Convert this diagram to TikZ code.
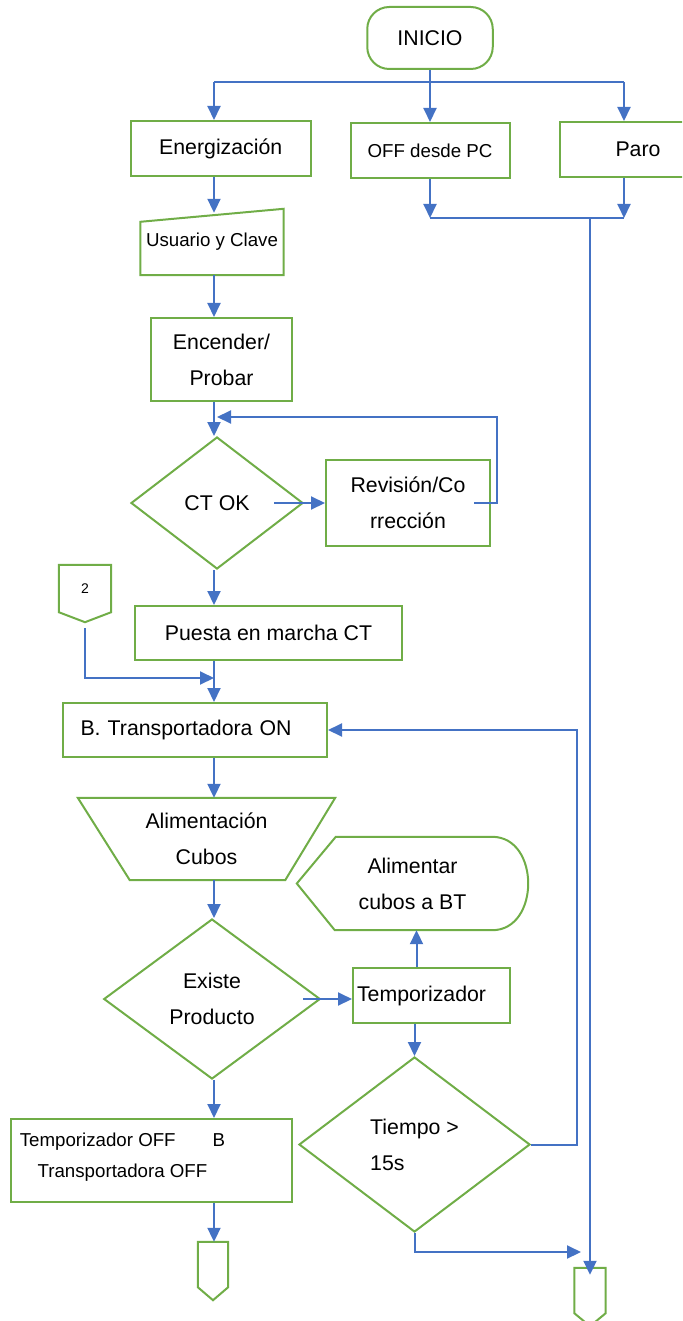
\documentclass[tikz,border=0pt]{standalone}
\usepackage{fontspec}
\setmainfont{Liberation Sans}
\usepackage{tikz}
\usetikzlibrary{arrows.meta,shapes.geometric,calc,positioning}

\definecolor{boxgreen}{HTML}{70AD47}
\definecolor{flowblue}{HTML}{4472C4}

\begin{document}
\begin{tikzpicture}[x=1pt,y=-1pt,
  txt/.style={font=\fontsize{21.3}{36}\selectfont},
  small/.style={font=\fontsize{18.7}{31}\selectfont},
  box/.style={rectangle,draw=boxgreen,line width=2pt,inner sep=0pt,align=center,txt},
  decide/.style={diamond,draw=boxgreen,line width=2pt,inner sep=0pt,align=center,txt},
  shell/.style={rectangle,inner sep=0pt,align=center,txt},
  outline/.style={draw=boxgreen,line width=2pt},
  flow/.style={draw=flowblue,line width=2pt,-{Triangle[length=14pt,width=13pt]}},
  thinlink/.style={draw=flowblue,line width=1.2pt}]
\useasboundingbox (0,0) rectangle (682,1321);
\clip (0,0) rectangle (682,1321);

\coordinate (spine) at (214,0);
\coordinate (paroX) at (624,0);
\coordinate (fork) at (430,82);
\coordinate (merge) at (590,218);
\coordinate (loop) at (497,417);
\coordinate (back) at (577,1144.5);
\coordinate (join) at (581,1252);

\node[box,rounded corners=22pt,minimum width=125.5pt,minimum height=62pt] (start) at (430,38) {INICIO};
\node[box,minimum width=180.5pt,minimum height=55pt] (energ) at (220.75,148.5) {Energización};
\node[box,small,minimum width=159pt,minimum height=55pt] (off) at (430,150.5) {OFF desde PC};
\node[box,minimum width=156pt,minimum height=55pt] (paro) at (638,149.5) {Paro};

\node[shell,small,minimum width=143pt,minimum height=66pt] (user) at (212,242) {Usuario y Clave};
\draw[outline] ([yshift=-13pt]user.north west) -- (user.north east) -- (user.south east) -- (user.south west) -- cycle;

\node[box,minimum width=141pt,minimum height=83pt] (test) at (221.5,359.5) {Encender/\\Probar};
\node[decide,minimum width=172pt,minimum height=132pt] (ctok) at (217,503) {CT OK};
\node[box,minimum width=164pt,minimum height=86pt] (rev) at (408,503) {Revisión/Co\\rrección};

% conector de entrada
\node[shell,font=\fontsize{14}{16}\selectfont,minimum width=52pt,minimum height=47pt] (link2) at (85,588.5) {2};
\draw[outline] (link2.south west) -- (link2.north west) -- (link2.north east) -- (link2.south east) -- ([yshift=-10pt]link2.south) -- cycle;

\node[box,minimum width=267pt,minimum height=54pt] (puesta) at (268.5,633) {Puesta en marcha CT};
\node[box,align=left,text width=229pt,inner xsep=17.5pt,minimum height=54pt] (btrans) at (195,730) {B. Transportadora ON};

\node[shell,minimum width=257pt,minimum height=82pt] (feed) at (206.5,839) {Alimentación\\Cubos};
\draw[outline] (feed.north west) -- (feed.north east) -- ([xshift=-50pt]feed.south east) -- ([xshift=52pt]feed.south west) -- cycle;

\node[shell,minimum width=231pt,minimum height=93pt] (show) at (412.5,883.5) {Alimentar\\cubos a BT};
\draw[outline] (show.west) -- ([xshift=39pt]show.north west) -- ([xshift=-36pt]show.north east)
  .. controls ([xshift=12pt]show.north east) and ([xshift=12pt]show.south east) .. ([xshift=-36pt]show.south east)
  -- ([xshift=38pt]show.south west) -- cycle;

\node[decide,minimum width=216.5pt,minimum height=160pt] (exist) at (212,999) {Existe\\Producto};
\node[box,align=left,text width=149pt,inner xsep=4pt,minimum height=55pt] (timer) at (431.5,995.5) {Temporizador};
\node[decide,align=left,minimum width=231pt,minimum height=175pt] (tiempo) at (414.5,1144.5) {Tiempo >\\15s};

\node[box,minimum width=281pt,minimum height=83pt] (stopbox) at (151.5,1160.5) {};
\node[small,align=center] (stoptext) at (122.5,1157.5) {Temporizador OFF\hspace{37pt}B\\Transportadora OFF};

% conectores de salida
\node[shell,minimum width=30pt,minimum height=45pt] (endA) at (213,1264.5) {};
\draw[outline] (endA.south west) -- (endA.north west) -- (endA.north east) -- (endA.south east) -- ([yshift=-13pt]endA.south) -- cycle;
\node[shell,minimum width=31pt,minimum height=45pt] (endB) at (590,1290.5) {};
\draw[outline] (endB.south west) -- (endB.north west) -- (endB.north east) -- (endB.south east) -- ([yshift=-13pt]endB.south) -- cycle;

% flechas
\draw[flow] (start) -- (off);
\draw[thinlink] (spine |- fork) -- (paroX |- fork);
\draw[flow] (spine |- fork) -- (spine |- energ.north);
\draw[flow] (paroX |- fork) -- (paroX |- paro.north);
\draw[flow] (off.south) -- (off.south |- merge);
\draw[flow] (paroX |- paro.south) -- (paroX |- merge);
\draw[thinlink] (off.south |- merge) -- (paroX |- merge);
\draw[flow] (merge) -- ([yshift=-7pt]endB.north);

\draw[flow] (spine |- energ.south) -- ([yshift=-4pt]spine |- user.north);
\draw[flow] (spine |- user.south) -- (spine |- test.north);
\draw[flow] (spine |- test.south) -- (spine |- ctok.north);
\draw[flow] ([xshift=-30pt]ctok.east) -- (rev.west);
\draw[flow] ([xshift=-17pt]rev.east) -| (loop) -- ([xshift=3pt]spine |- loop);
\draw[flow] (spine |- ctok.south) -- (spine |- puesta.north);
\draw[flow] (spine |- puesta.south) -- (spine |- btrans.north);
\draw[flow] ([yshift=-16pt]link2.south) |- ([yshift=24pt]spine |- btrans.north);
\draw[flow] (spine |- btrans.south) -- (spine |- feed.north);
\draw[flow] (spine |- feed.south) -- (spine |- exist.north);
\draw[flow] ([xshift=-18pt]exist.east) -- (timer.west |- exist.east);
\draw[flow] ([xshift=-15pt]timer.north) -- ([xshift=-15pt]timer.north |- show.south);
\draw[flow] (timer.south -| tiempo.north) -- (tiempo.north);
\draw[flow] (tiempo.east) -- (back) |- (btrans.east);
\draw[flow] (tiempo.south) |- (join);
\draw[flow] (spine |- exist.south) -- (spine |- stopbox.north);
\draw[flow] (spine |- stopbox.south) -- (spine |- endA.north);
\end{tikzpicture}
\end{document}
